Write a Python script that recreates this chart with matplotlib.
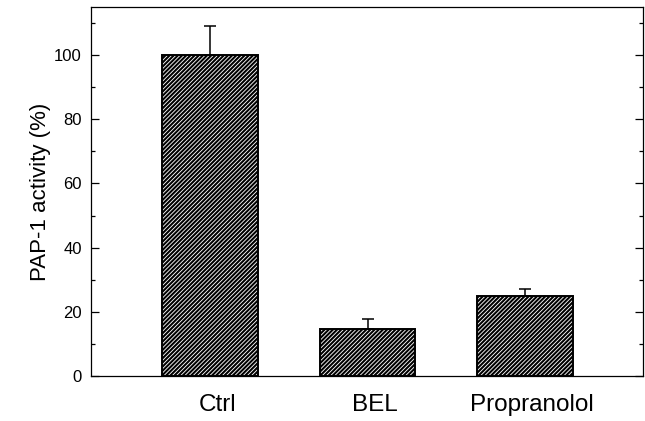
import matplotlib
matplotlib.use("Agg")
import matplotlib.pyplot as plt
from matplotlib.ticker import MultipleLocator

categories = ["Ctrl", "BEL", "Propranolol"]
values = [100, 14.5, 25]
errors = [9, 3.3, 2.2]

plt.rcParams['font.family'] = ['Liberation Sans', 'DejaVu Sans']
plt.rcParams['hatch.linewidth'] = 1.5
plt.rcParams['hatch.color'] = 'black'

fig = plt.figure(figsize=(6.45, 4.21), dpi=100)
ax = fig.add_axes([91/645, 1 - 376/421, (643 - 91)/645, (376 - 7)/421])

x = list(range(len(categories)))
ax.bar(x, values, width=0.605, color='white', edgecolor='black',
       linewidth=1.4, hatch='////////', zorder=2)
ax.errorbar(x, values, yerr=[[0]*len(errors), errors], fmt='none',
            ecolor='black', elinewidth=1.1, capsize=4, capthick=1.1, zorder=3)

ax.set_xlim(-0.756, 2.749)
ax.set_ylim(0, 115)
label_shift = 0.045  # labels sit slightly right of bar centres in the reference
ax.set_xticks([xi + label_shift for xi in x])
ax.set_xticklabels(categories, fontsize=17.5)
ax.yaxis.set_major_locator(MultipleLocator(20))
ax.yaxis.set_minor_locator(MultipleLocator(10))
ax.tick_params(axis='x', length=0, pad=13)
ax.tick_params(axis='y', which='major', direction='in', length=5.5, width=0.9,
               right=True, labelsize=12, pad=6.5)
ax.tick_params(axis='y', which='minor', direction='in', length=3, width=0.9,
               right=True)
ax.set_ylabel("PAP-1 activity (%)", fontsize=16, labelpad=2)
for s in ax.spines.values():
    s.set_linewidth(0.9)

fig.savefig("out.png", dpi=100)
